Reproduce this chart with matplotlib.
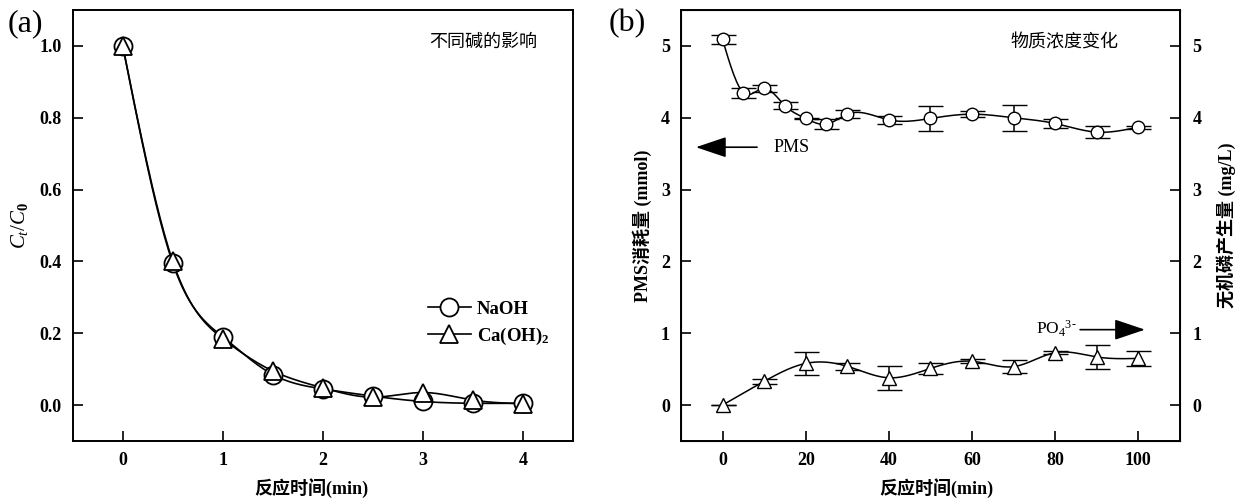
import numpy as np
import matplotlib
matplotlib.use("Agg")
from matplotlib import pyplot as plt

plt.rcParams['font.family'] = ['Liberation Serif', 'Noto Sans CJK SC']
plt.rcParams['mathtext.fontset'] = 'custom'
plt.rcParams['mathtext.rm'] = 'Liberation Serif'
plt.rcParams['mathtext.it'] = 'Liberation Serif:italic'
plt.rcParams['mathtext.bf'] = 'Liberation Serif:bold'

# (a) effect of different bases
t_a = [0, 0.5, 1, 1.5, 2, 2.5, 3, 3.5, 4]
naoh = [1.0, 0.395, 0.19, 0.085, 0.045, 0.025, 0.01, 0.005, 0.005]
caoh2 = [1.0, 0.40, 0.185, 0.095, 0.048, 0.022, 0.035, 0.014, 0.004]

# (b) PMS consumption and phosphate release
t_pms = [0, 5, 10, 15, 20, 25, 30, 40, 50, 60, 70, 80, 90, 100]
pms = [5.09, 4.35, 4.41, 4.17, 3.99, 3.91, 4.05, 3.97, 3.99, 4.05, 4.0, 3.92, 3.80, 3.87]
pms_err = [0.06, 0.07, 0.045, 0.045, 0.01, 0.07, 0.055, 0.06, 0.18, 0.04, 0.18, 0.06, 0.08, 0.02]
t_po4 = [0, 10, 20, 30, 40, 50, 60, 70, 80, 90, 100]
po4 = [0.0, 0.33, 0.58, 0.54, 0.38, 0.51, 0.61, 0.535, 0.73, 0.67, 0.65]
po4_err = [0.0, 0.04, 0.155, 0.05, 0.165, 0.08, 0.03, 0.09, 0.02, 0.17, 0.1]


def spline(x, y, n=300):
    # natural cubic spline, only used to draw the smooth connecting line
    x = np.asarray(x, float)
    y = np.asarray(y, float)
    h = np.diff(x)
    m = len(x)
    A = np.zeros((m, m))
    b = np.zeros(m)
    A[0, 0] = A[-1, -1] = 1
    for i in range(1, m - 1):
        A[i, i - 1] = h[i - 1]
        A[i, i] = 2 * (h[i - 1] + h[i])
        A[i, i + 1] = h[i]
        b[i] = 6 * ((y[i + 1] - y[i]) / h[i] - (y[i] - y[i - 1]) / h[i - 1])
    M = np.linalg.solve(A, b)
    xs = np.linspace(x[0], x[-1], n)
    k = np.clip(np.searchsorted(x, xs) - 1, 0, m - 2)
    d = xs - x[k]
    hk = h[k]
    a = (M[k + 1] - M[k]) / (6 * hk)
    bb = M[k] / 2
    c = (y[k + 1] - y[k]) / hk - hk * (2 * M[k] + M[k + 1]) / 6
    return xs, y[k] + c * d + bb * d ** 2 + a * d ** 3


fig = plt.figure(figsize=(12.39, 5.0), dpi=100)
tickfont = dict(family='Liberation Serif', weight='bold', size=13)
lblfont = ['Liberation Serif', 'Noto Sans CJK SC']
arrow = dict(arrowstyle='-|>,head_length=0.95,head_width=0.32', color='k', lw=1.2,
             mutation_scale=20, shrinkA=0, shrinkB=0)

#%% panel a
ax = fig.add_axes([0.0587, 0.118, 0.4037, 0.862])
for y, mk in [(naoh, 'o'), (caoh2, '^')]:
    xs, ys = spline(t_a, y)
    ax.plot(xs, ys, color='k', lw=1.2, zorder=2)
    ax.plot(t_a, y, ls='none', marker=mk, ms=13, mfc='white', mec='k', mew=1.3, zorder=3)
h1, = ax.plot([], [], color='k', lw=1.2, marker='o', ms=13, mfc='white', mec='k', mew=1.3)
h2, = ax.plot([], [], color='k', lw=1.2, marker='^', ms=13, mfc='white', mec='k', mew=1.3)
ax.legend([h1, h2], ['NaOH', 'Ca(OH)$_\\mathbf{2}$'], loc='upper left', bbox_to_anchor=(0.71, 0.325),
          frameon=False, borderpad=0, borderaxespad=0, handlelength=2.3, handletextpad=0.3,
          labelspacing=0.4, prop=dict(family='Liberation Serif', weight='bold', size=13.5))
ax.set_xlim(-0.5, 4.5)
ax.set_ylim(-0.1, 1.1)
ax.set_xticks([0, 1, 2, 3, 4])
ax.set_yticks([0.0, 0.2, 0.4, 0.6, 0.8, 1.0])
ax.set_yticklabels(['0.0', '0.2', '0.4', '0.6', '0.8', '1.0'])
ax.tick_params(direction='in', length=7, width=1.2, pad=8, top=False, right=False)
for lab in ax.get_xticklabels() + ax.get_yticklabels():
    lab.set(**tickfont)
for s in ax.spines.values():
    s.set_linewidth(1.4)
ax.set_xlabel('反应时间(min)', family=lblfont, weight='bold', fontsize=13)
ax.xaxis.set_label_coords(0.478, -0.086)
ax.set_ylabel('$C_t/C_\\mathbf{0}$', fontsize=15)
ax.yaxis.set_label_coords(-0.085, 0.5)
ax.text(3.6, 1.01, '不同碱的影响', family=lblfont, fontsize=13, ha='center', va='center')
fig.text(0.006, 0.952, '(a)', family='Liberation Serif', fontsize=23, va='center')

#%% panel b
bx = fig.add_axes([0.5496, 0.118, 0.4027, 0.862])
xs, ys = spline(t_pms, pms)
bx.plot(xs, ys, color='k', lw=1.1, zorder=2)
bx.errorbar(t_pms, pms, yerr=pms_err, ls='none', marker='o', ms=9, mfc='white', mec='k', mew=1.0,
            ecolor='k', elinewidth=1.1, capsize=9, capthick=1.3, zorder=3)
xs, ys = spline(t_po4, po4)
bx.plot(xs, ys, color='k', lw=1.1, zorder=2)
bx.errorbar(t_po4, po4, yerr=po4_err, ls='none', marker='^', ms=10, mfc='white', mec='k', mew=1.0,
            ecolor='k', elinewidth=1.1, capsize=9, capthick=1.3, zorder=3)
bx.set_xlim(-10, 110)
bx.set_ylim(-0.5, 5.5)
bx.set_xticks([0, 20, 40, 60, 80, 100])
bx.set_yticks([0, 1, 2, 3, 4, 5])
bx.tick_params(direction='in', length=7, width=1.2, pad=8, top=False, right=False)
for lab in bx.get_xticklabels() + bx.get_yticklabels():
    lab.set(**tickfont)
for s in bx.spines.values():
    s.set_linewidth(1.4)
bx.set_xlabel('反应时间(min)', family=lblfont, weight='bold', fontsize=13)
bx.xaxis.set_label_coords(0.511, -0.086)
bx.set_ylabel('PMS消耗量 (mmol)', family=lblfont, weight='bold', fontsize=13)
bx.yaxis.set_label_coords(-0.058, 0.5)

rx = bx.twinx()
rx.set_ylim(-0.5, 5.5)
rx.set_yticks([0, 1, 2, 3, 4, 5])
rx.tick_params(direction='in', length=7, width=1.2, pad=9)
for lab in rx.get_yticklabels():
    lab.set(**tickfont)
rx.set_ylabel('无机磷产生量 (mg/L)', family=lblfont, weight='bold', fontsize=13, rotation=90)
rx.yaxis.set_label_coords(1.073, 0.5)

bx.annotate('', xy=(-6.4, 3.59), xytext=(8.3, 3.59), arrowprops=arrow)
bx.text(12.2, 3.59, 'PMS', family='Liberation Serif', fontsize=13, va='center')
bx.annotate('', xy=(101.6, 1.05), xytext=(86.0, 1.05), arrowprops=arrow)
bx.text(75.3, 1.06, 'PO$_4$$^{3\\text{-}}$', family='Liberation Serif', fontsize=12.5, va='center')
bx.text(82.2, 5.04, '物质浓度变化', family=lblfont, fontsize=13, ha='center', va='center')
fig.text(0.491, 0.952, '(b)', family='Liberation Serif', fontsize=23, va='center')

fig.savefig('out.png', dpi=100)
